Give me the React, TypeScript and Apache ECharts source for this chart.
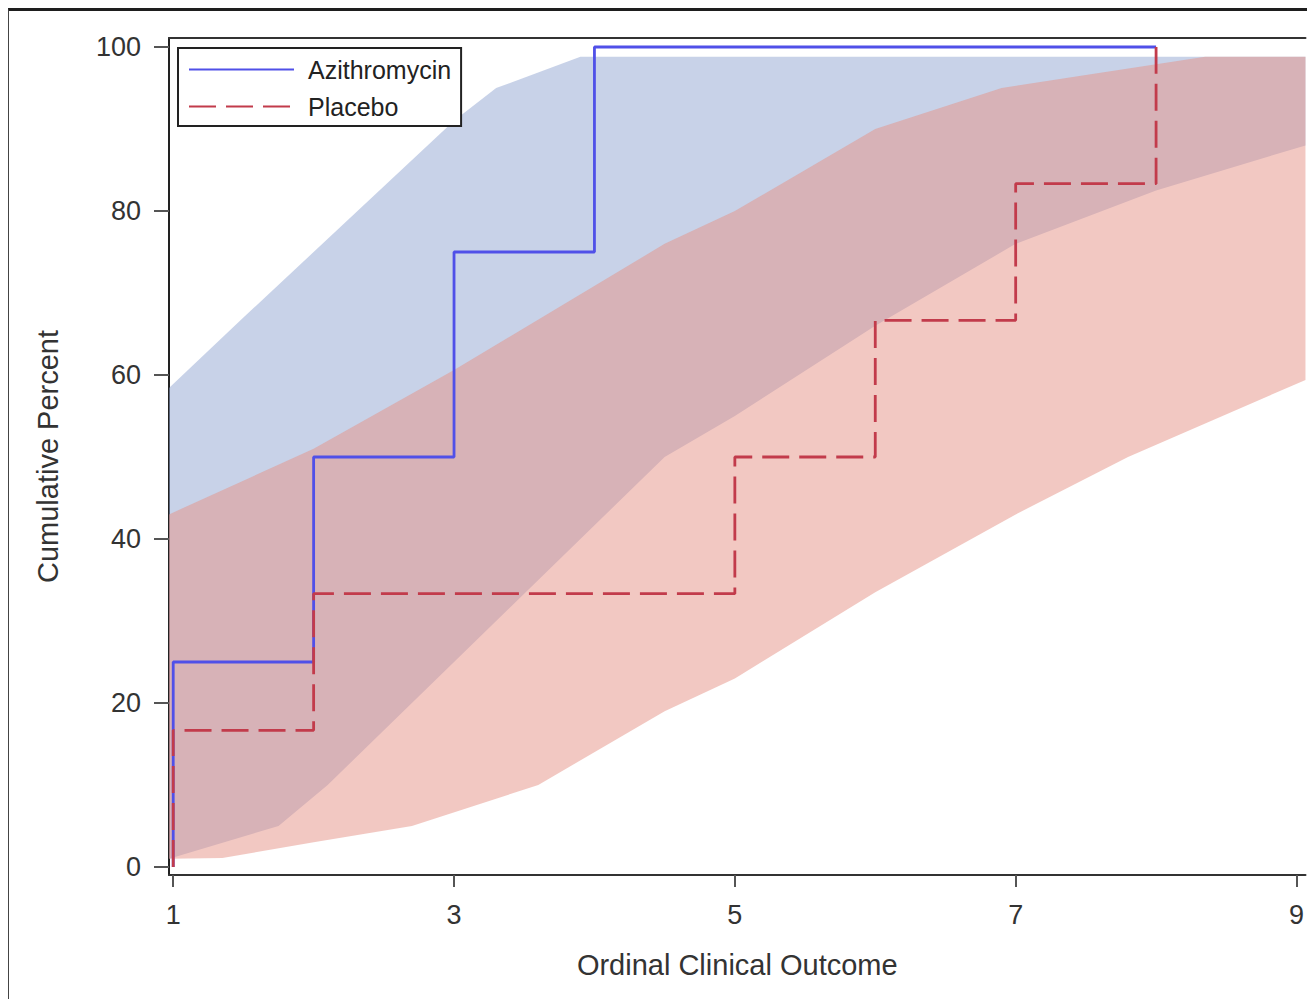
import React, { useEffect, useRef } from "react";
import * as echarts from "echarts";

// ---- data ----
const xTicks = [1, 3, 5, 7, 9];
const yTicks = [0, 20, 40, 60, 80, 100];
const xMin = 0.97;
const xMax = 9.064;
const yMin = -0.98;
const yMax = 101.1;

// step curves (cumulative percent by ordinal outcome)
const azithroSteps: number[][] = [
  [1, 0], [1, 25], [2, 50], [3, 75], [4, 100], [8, 100],
];
const placeboSteps: number[][] = [
  [1, 0], [1, 16.67], [2, 33.33], [5, 50], [6, 66.67], [7, 83.33], [8, 100],
];

// confidence bands
const azithroUpper: number[][] = [
  [0.97, 58.4], [1.5, 67], [2, 75], [3, 91], [3.3, 95], [3.9, 98.8], [9.064, 98.8],
];
const azithroLower: number[][] = [
  [0.97, 1], [1.75, 5], [2.1, 10], [3, 25], [4.5, 50], [5, 55], [6, 66], [7, 76], [8, 82.5], [9.064, 88],
];
const placeboUpper: number[][] = [
  [0.97, 43], [2, 51], [3, 60.6], [4.5, 76], [5, 80], [6, 90], [6.9, 95], [7.5, 96.6], [8.35, 98.8], [9.064, 98.8],
];
const placeboLower: number[][] = [
  [0.97, 1], [1.35, 1.1], [2, 3], [2.7, 5], [3.6, 10], [4.5, 19], [5, 23], [6, 33.5], [7, 43], [7.8, 50], [9.064, 59.4],
];

const FONT = "'Liberation Sans', Arial, sans-serif";

function band(name: string, upper: number[][], lower: number[][], fill: string, z: number) {
  return {
    type: "custom",
    name,
    silent: true,
    z,
    clip: true,
    data: [upper[0]],
    renderItem: (_params: any, api: any) => {
      const pts = [
        ...upper.map((p) => api.coord(p)),
        ...lower.slice().reverse().map((p) => api.coord(p)),
      ];
      return { type: "polygon", shape: { points: pts }, style: { fill } };
    },
  };
}

export default function App() {
  const ref = useRef<HTMLDivElement>(null);
  useEffect(() => {
    if (!ref.current) return;
    const chart = echarts.init(ref.current, undefined, { renderer: "svg" });
    chart.setOption({
      animation: false,
      backgroundColor: "#ffffff",
      grid: { left: 169, top: 38, right: 0, bottom: 124, containLabel: false },
      legend: {
        orient: "vertical",
        left: 178,
        top: 48,
        padding: [9, 10, 7, 10],
        itemGap: 12,
        itemWidth: 105,
        itemHeight: 14,
        borderColor: "#222",
        borderWidth: 2,
        backgroundColor: "#ffffff",
        data: ["Azithromycin", "Placebo"],
        itemStyle: { opacity: 0 },
        textStyle: { fontSize: 25, fontFamily: FONT, color: "#222", padding: [0, 0, 0, 9], lineHeight: 25 },
      },
      xAxis: [
        {
          type: "value",
          min: xMin,
          max: xMax,
          position: "bottom",
          name: "Ordinal Clinical Outcome",
          nameLocation: "middle",
          nameGap: 75,
          nameTextStyle: { fontSize: 29, fontFamily: FONT, color: "#333" },
          splitLine: { show: false },
          axisLine: { show: true, onZero: false, lineStyle: { color: "#333", width: 2 } },
          axisTick: { show: true, customValues: xTicks, length: 12, lineStyle: { color: "#555", width: 2 } },
          axisLabel: { customValues: xTicks, margin: 26, fontSize: 27, fontFamily: FONT, color: "#333" },
        },
        {
          type: "value",
          min: xMin,
          max: xMax,
          position: "top",
          splitLine: { show: false },
          axisLine: { show: true, onZero: false, lineStyle: { color: "#333", width: 2 } },
          axisTick: { show: false },
          axisLabel: { show: false },
        },
      ],
      yAxis: {
        type: "value",
        min: yMin,
        max: yMax,
        name: "Cumulative Percent",
        nameLocation: "middle",
        nameGap: 107,
        nameTextStyle: { fontSize: 29, fontFamily: FONT, color: "#333" },
        splitLine: { show: false },
        axisLine: { show: true, onZero: false, lineStyle: { color: "#222", width: 2 } },
        axisTick: { show: true, customValues: yTicks, length: 15, lineStyle: { color: "#555", width: 2 } },
        axisLabel: { customValues: yTicks, margin: 28, fontSize: 27, fontFamily: FONT, color: "#333" },
      },
      series: [
        band("Azithromycin CI", azithroUpper, azithroLower, "rgba(145,165,209,0.5)", 1),
        band("Placebo CI", placeboUpper, placeboLower, "rgba(229,145,133,0.5)", 2),
        {
          type: "line",
          name: "Azithromycin",
          data: azithroSteps,
          step: "end",
          symbol: "none",
          z: 3,
          lineStyle: { color: "#5050e8", width: 2.8 },
          itemStyle: { color: "#5050e8" },
        },
        {
          type: "line",
          name: "Placebo",
          data: placeboSteps,
          step: "end",
          symbol: "none",
          z: 4,
          lineStyle: { color: "#c23b4b", width: 2.8, type: [27, 10] },
          itemStyle: { color: "#c23b4b" },
        },
      ],
    });
    return () => chart.dispose();
  }, []);
  return (
    <>
      <div ref={ref} style={{ position: "fixed", left: 0, top: 0, width: 1307, height: 999 }} />
      <div
        style={{
          position: "fixed",
          left: 8,
          top: 8,
          width: 1299,
          height: 991,
          boxSizing: "border-box",
          borderTop: "3px solid #1e1e1e",
          borderLeft: "1px solid #444",
          pointerEvents: "none",
        }}
      />
    </>
  );
}
